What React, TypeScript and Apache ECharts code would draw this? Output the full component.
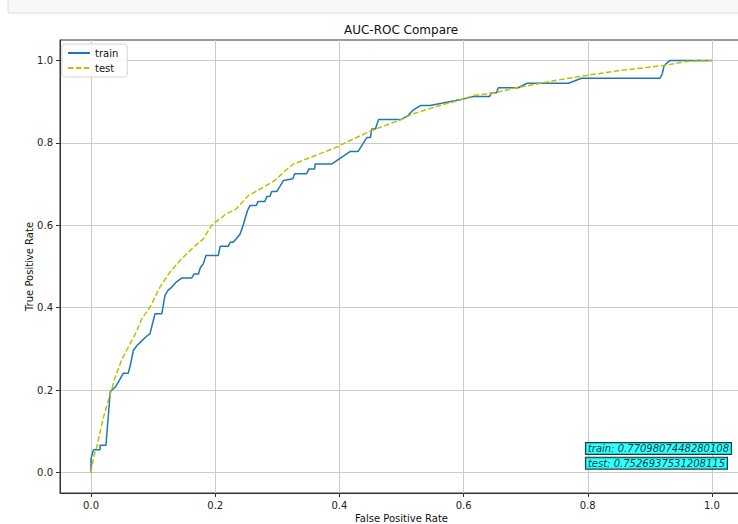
import React, { useEffect, useRef } from "react";
import * as echarts from "echarts";

const trainFpr = [0, 0, 0.004, 0.0145, 0.0145, 0.024, 0.031, 0.039, 0.044, 0.052, 0.06, 0.064, 0.068, 0.074, 0.082, 0.089, 0.095, 0.099, 0.103, 0.114, 0.119, 0.124, 0.13, 0.137, 0.146, 0.162, 0.166, 0.173, 0.176, 0.181, 0.185, 0.205, 0.208, 0.221, 0.224, 0.229, 0.236, 0.24, 0.244, 0.248, 0.252, 0.256, 0.266, 0.269, 0.28, 0.283, 0.288, 0.291, 0.299, 0.304, 0.31, 0.325, 0.328, 0.347, 0.351, 0.36, 0.361, 0.388, 0.417, 0.43, 0.444, 0.45, 0.452, 0.458, 0.463, 0.5, 0.511, 0.518, 0.531, 0.546, 0.6, 0.616, 0.642, 0.645, 0.653, 0.656, 0.688, 0.702, 0.769, 0.79, 0.916, 0.92, 0.923, 0.932, 1.0];
const trainTpr = [0, 0.034, 0.055, 0.055, 0.066, 0.066, 0.197, 0.207, 0.219, 0.241, 0.241, 0.265, 0.296, 0.308, 0.32, 0.33, 0.337, 0.361, 0.385, 0.385, 0.43, 0.442, 0.45, 0.462, 0.472, 0.472, 0.482, 0.482, 0.497, 0.507, 0.527, 0.527, 0.549, 0.549, 0.559, 0.559, 0.571, 0.579, 0.595, 0.616, 0.636, 0.648, 0.648, 0.658, 0.658, 0.67, 0.67, 0.682, 0.682, 0.694, 0.709, 0.713, 0.725, 0.725, 0.737, 0.737, 0.749, 0.749, 0.779, 0.779, 0.813, 0.813, 0.834, 0.834, 0.857, 0.857, 0.867, 0.879, 0.891, 0.891, 0.907, 0.913, 0.913, 0.922, 0.922, 0.934, 0.934, 0.945, 0.945, 0.957, 0.957, 0.968, 0.988, 1.0, 1.0];

const testFpr = [0, 0.004, 0.009, 0.02, 0.031, 0.039, 0.049, 0.057, 0.071, 0.082, 0.095, 0.111, 0.127, 0.146, 0.165, 0.181, 0.194, 0.218, 0.234, 0.253, 0.277, 0.296, 0.31, 0.326, 0.347, 0.369, 0.396, 0.417, 0.455, 0.498, 0.519, 0.562, 0.6, 0.616, 0.653, 0.685, 0.707, 0.745, 0.798, 0.852, 0.922, 0.959, 1.0];
const testTpr = [0, 0.037, 0.061, 0.134, 0.191, 0.231, 0.272, 0.296, 0.335, 0.374, 0.401, 0.45, 0.486, 0.519, 0.547, 0.567, 0.6, 0.628, 0.64, 0.672, 0.692, 0.709, 0.729, 0.749, 0.761, 0.774, 0.79, 0.806, 0.832, 0.856, 0.871, 0.891, 0.907, 0.915, 0.923, 0.934, 0.94, 0.951, 0.964, 0.976, 0.988, 0.998, 1.0];

const tickValues = [0, 0.2, 0.4, 0.6, 0.8, 1.0];
const annotTexts = ["train: 0.7709807448280108", "test: 0.7526937531208115"];
const annotX = [0.797, 0.797];
const annotY = [0.058, 0.022];

const FONT = "DejaVu Sans";

export default function App() {
  const ref = useRef<HTMLDivElement>(null);
  useEffect(() => {
    if (!ref.current) return;
    const chart = echarts.init(ref.current, undefined, { renderer: "svg" });
    const zip = (xs: number[], ys: number[]) => xs.map((x, i) => [x, ys[i]]);
    const axisCommon = {
      type: "value" as const,
      min: -0.05,
      max: 1.05,
      nameLocation: "middle" as const,
      nameMoveOverlap: false,
      nameTextStyle: { fontFamily: FONT, fontSize: 10, color: "#111" },
      axisLine: { show: true, onZero: false, lineStyle: { color: "#333", width: 1 } },
      axisTick: { show: true, length: 4, customValues: tickValues, lineStyle: { color: "#333" } },
      axisLabel: {
        customValues: tickValues,
        fontFamily: FONT,
        fontSize: 10,
        color: "#222",
        margin: 7,
        formatter: (v: number) => v.toFixed(1),
      },
      splitLine: { show: true, lineStyle: { color: "#cccccc", width: 1 } },
    };
    chart.setOption({
      animation: false,
      backgroundColor: "#ffffff",
      title: {
        text: "AUC-ROC Compare",
        left: "center",
        top: 24,
        padding: 0,
        textStyle: { fontFamily: FONT, fontSize: 12, fontWeight: "normal", color: "#111" },
      },
      grid: {
        left: 60,
        right: 59,
        top: 40,
        bottom: 31,
        containLabel: false,
        outerBoundsMode: "none",
        show: true,
        borderColor: "#333",
        borderWidth: 1,
        backgroundColor: "transparent",
      },
      xAxis: { ...axisCommon, name: "False Positive Rate", nameGap: 20 },
      yAxis: { ...axisCommon, name: "True Positive Rate", nameGap: 26, nameRotate: 90 },
      legend: {
        data: ["train", "test"],
        orient: "vertical",
        left: 62,
        top: 44,
        padding: [3, 9, 3, 5],
        itemWidth: 22,
        itemHeight: 10,
        itemGap: 3,
        itemStyle: { opacity: 0 },
        backgroundColor: "rgba(255,255,255,0.85)",
        borderColor: "#d5d5d5",
        borderWidth: 1,
        borderRadius: 3,
        textStyle: { fontFamily: FONT, fontSize: 10, color: "#111", lineHeight: 12 },
      },
      graphic: [
        {
          type: "rect",
          shape: { x: 8, y: -2, width: 800, height: 15 },
          style: { fill: "#f7f7f7", stroke: "#dddddd", lineWidth: 1 },
          silent: true,
        },
      ],
      series: [
        {
          name: "train",
          type: "line",
          data: zip(trainFpr, trainTpr),
          symbol: "none",
          showSymbol: false,
          lineStyle: { color: "#1f77b4", width: 1.5 },
          itemStyle: { color: "#1f77b4" },
          z: 3,
        },
        {
          name: "test",
          type: "line",
          data: zip(testFpr, testTpr),
          symbol: "none",
          showSymbol: false,
          lineStyle: { color: "#bfbf00", width: 1.5, type: [5.5, 2.4] },
          itemStyle: { color: "#bfbf00" },
          z: 4,
        },
        {
          name: "annot",
          type: "scatter",
          symbolSize: 0,
          silent: true,
          z: 10,
          data: annotTexts.map((t, i) => ({ value: [annotX[i], annotY[i]], name: t })),
          label: {
            show: true,
            position: "right",
            distance: 0,
            formatter: (p: any) => p.name,
            fontFamily: FONT,
            fontSize: 10,
            fontStyle: "italic",
            color: "#000",
            backgroundColor: "#00ffff",
            borderColor: "#000",
            borderWidth: 1,
            padding: [1, 2, 0, 2],
          },
        },
      ],
    });
    return () => chart.dispose();
  }, []);
  return (
    <div style={{ position: "absolute", left: 0, top: 0, width: 738, height: 524, overflow: "hidden", background: "#fff" }}>
      <div ref={ref} style={{ width: 802, height: 524 }} />
    </div>
  );
}
